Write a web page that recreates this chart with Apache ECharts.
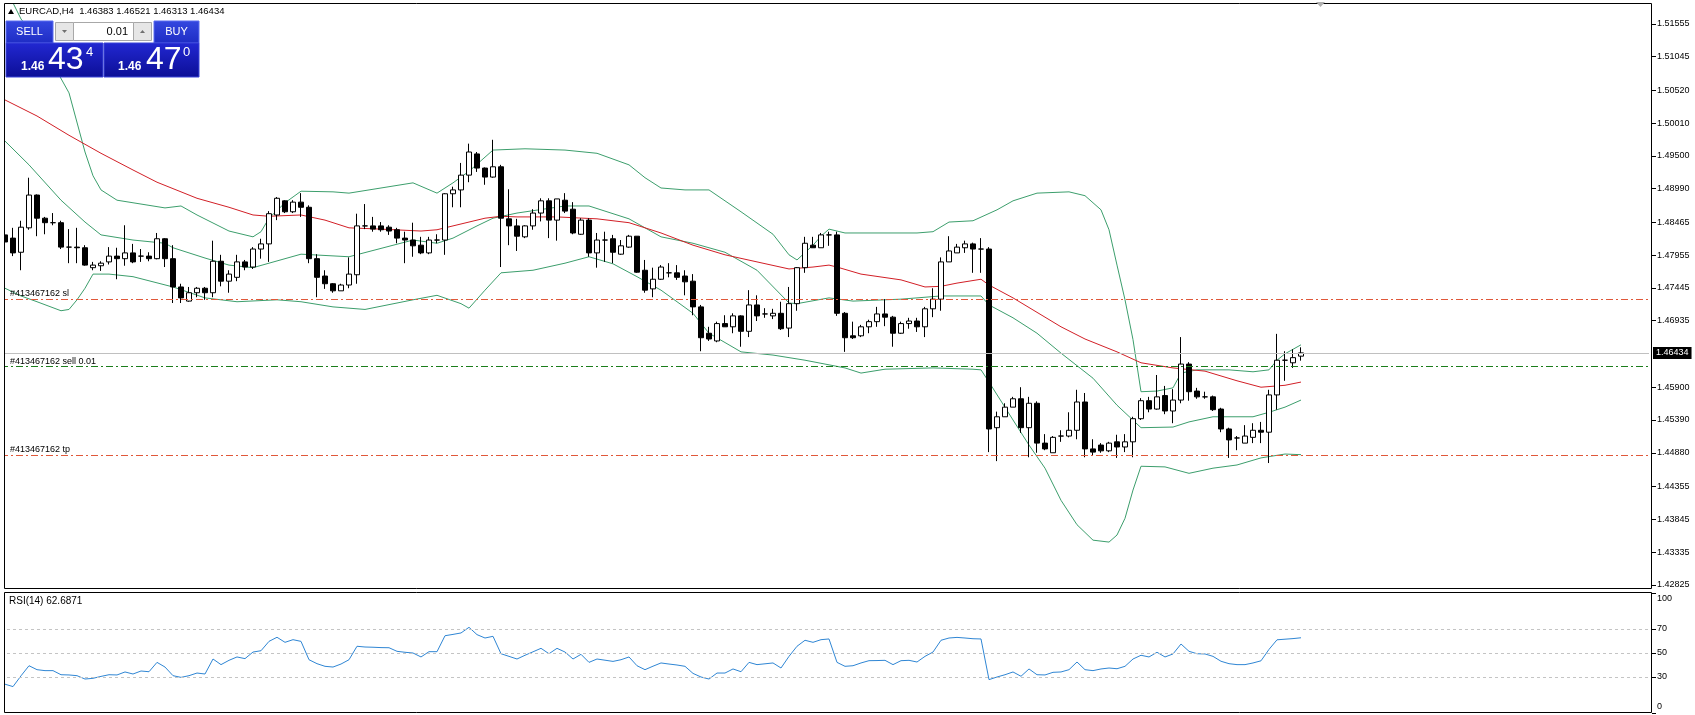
<!DOCTYPE html>
<html>
<head>
<meta charset="utf-8">
<script src="https://cdn.jsdelivr.net/npm/echarts@6.0.0/dist/echarts.min.js"></script>
<style>
html, body { margin: 0; padding: 0; background: #fff; }
#chart { width: 1695px; height: 715px; }
</style>
</head>
<body>
<div id="chart"></div>
<script>
// EURCAD H4, one row per bar: [open, close, low, high]
const candles = [
  [1.4827,1.4816,1.4813,1.4832],[1.4822,1.4799,1.4794,1.4838],[1.4800,1.4839,1.4772,1.4849],[1.4838,1.4889,1.4835,1.4916],
  [1.4889,1.4853,1.4825,1.4890],[1.4853,1.4846,1.4828,1.4855],[1.4846,1.4846,1.4842,1.4861],[1.4846,1.4808,1.4805,1.4849],
  [1.4808,1.4808,1.4783,1.4836],[1.4808,1.4807,1.4783,1.4838],[1.4807,1.4780,1.4779,1.4811],[1.4776,1.4780,1.4772,1.4785],
  [1.4779,1.4783,1.4771,1.4786],[1.4785,1.4794,1.4781,1.4808],[1.4794,1.4790,1.4758,1.4807],[1.4790,1.4799,1.4779,1.4842],
  [1.4799,1.4785,1.4783,1.4813],[1.4794,1.4794,1.4785,1.4805],[1.4794,1.4790,1.4786,1.4800],[1.4790,1.4821,1.4789,1.4830],
  [1.4821,1.4790,1.4777,1.4822],[1.4790,1.4746,1.4721,1.4811],[1.4746,1.4729,1.4721,1.4751],[1.4724,1.4737,1.4723,1.4746],
  [1.4737,1.4744,1.4730,1.4746],[1.4744,1.4737,1.4726,1.4746],[1.4737,1.4786,1.4730,1.4818],[1.4786,1.4755,1.4747,1.4796],
  [1.4755,1.4766,1.4737,1.4772],[1.4761,1.4785,1.4755,1.4796],[1.4785,1.4777,1.4772,1.4788],[1.4777,1.4805,1.4774,1.4808],
  [1.4805,1.4813,1.4790,1.4821],[1.4813,1.4860,1.4785,1.4864],[1.4858,1.4884,1.4850,1.4886],[1.4880,1.4863,1.4861,1.4881],
  [1.4863,1.4878,1.4861,1.4881],[1.4878,1.4870,1.4855,1.4892],[1.4870,1.4790,1.4783,1.4873],[1.4790,1.4761,1.4730,1.4797],
  [1.4763,1.4751,1.4743,1.4772],[1.4751,1.4740,1.4737,1.4752],[1.4740,1.4749,1.4740,1.4751],[1.4749,1.4766,1.4744,1.4792],
  [1.4765,1.4841,1.4751,1.4860],[1.4841,1.4841,1.4836,1.4875],[1.4841,1.4836,1.4832,1.4855],[1.4841,1.4835,1.4832,1.4847],
  [1.4839,1.4833,1.4827,1.4842],[1.4835,1.4822,1.4814,1.4838],[1.4822,1.4819,1.4783,1.4832],[1.4819,1.4810,1.4793,1.4846],
  [1.4811,1.4799,1.4797,1.4824],[1.4799,1.4819,1.4797,1.4824],[1.4819,1.4819,1.4814,1.4828],[1.4819,1.4891,1.4796,1.4892],
  [1.4891,1.4897,1.4870,1.4902],[1.4897,1.4920,1.4870,1.4939],[1.4920,1.4956,1.4909,1.4969],[1.4953,1.4931,1.4925,1.4956],
  [1.4931,1.4917,1.4905,1.4932],[1.4917,1.4933,1.4916,1.4975],[1.4933,1.4853,1.4777,1.4936],[1.4852,1.4841,1.4811,1.4898],
  [1.4841,1.4825,1.4802,1.4852],[1.4824,1.4841,1.4822,1.4842],[1.4841,1.4861,1.4835,1.4867],[1.4861,1.4880,1.4848,1.4884],
  [1.4880,1.4850,1.4822,1.4884],[1.4850,1.4883,1.4818,1.4883],[1.4881,1.4864,1.4861,1.4892],[1.4867,1.4830,1.4828,1.4878],
  [1.4828,1.4850,1.4827,1.4853],[1.4850,1.4799,1.4793,1.4853],[1.4799,1.4819,1.4776,1.4830],[1.4819,1.4819,1.4785,1.4832],
  [1.4821,1.4800,1.4783,1.4827],[1.4797,1.4810,1.4796,1.4819],[1.4808,1.4825,1.4807,1.4827],[1.4825,1.4769,1.4768,1.4825],
  [1.4772,1.4741,1.4737,1.4788],[1.4743,1.4758,1.4730,1.4776],[1.4758,1.4777,1.4757,1.4780],[1.4768,1.4768,1.4761,1.4783],
  [1.4768,1.4761,1.4757,1.4780],[1.4763,1.4754,1.4733,1.4772],[1.4755,1.4715,1.4702,1.4766],[1.4715,1.4667,1.4646,1.4718],
  [1.4674,1.4665,1.4662,1.4684],[1.4662,1.4689,1.4660,1.4692],[1.4689,1.4684,1.4684,1.4702],[1.4684,1.4701,1.4674,1.4705],
  [1.4701,1.4677,1.4653,1.4702],[1.4677,1.4718,1.4668,1.4741],[1.4718,1.4701,1.4693,1.4733],[1.4704,1.4704,1.4698,1.4713],
  [1.4701,1.4705,1.4696,1.4712],[1.4705,1.4681,1.4679,1.4723],[1.4682,1.4720,1.4668,1.4746],[1.4720,1.4776,1.4709,1.4777],
  [1.4776,1.4814,1.4768,1.4824],[1.4811,1.4807,1.4807,1.4824],[1.4807,1.4827,1.4807,1.4830],[1.4827,1.4827,1.4810,1.4832],
  [1.4827,1.4705,1.4701,1.4832],[1.4705,1.4667,1.4645,1.4707],[1.4670,1.4667,1.4665,1.4692],[1.4670,1.4684,1.4668,1.4687],
  [1.4684,1.4692,1.4674,1.4695],[1.4692,1.4704,1.4684,1.4715],[1.4704,1.4699,1.4685,1.4727],[1.4699,1.4674,1.4653,1.4701],
  [1.4674,1.4689,1.4673,1.4692],[1.4689,1.4693,1.4681,1.4698],[1.4693,1.4684,1.4676,1.4698],[1.4684,1.4712,1.4668,1.4715],
  [1.4712,1.4727,1.4699,1.4744],[1.4727,1.4785,1.4709,1.4792],[1.4785,1.4802,1.4785,1.4825],[1.4799,1.4808,1.4799,1.4813],
  [1.4807,1.4813,1.4799,1.4818],[1.4813,1.4805,1.4768,1.4815],[1.4805,1.4805,1.4768,1.4822],[1.4805,1.4525,1.4489,1.4808],
  [1.4527,1.4544,1.4475,1.4552],[1.4544,1.4559,1.4544,1.4565],[1.4559,1.4572,1.4559,1.4575],[1.4572,1.4527,1.4519,1.4590],
  [1.4527,1.4565,1.4481,1.4575],[1.4565,1.4503,1.4488,1.4568],[1.4503,1.4494,1.4492,1.4517],[1.4488,1.4512,1.4488,1.4514],
  [1.4514,1.4514,1.4505,1.4523],[1.4514,1.4523,1.4512,1.4551],[1.4523,1.4567,1.4509,1.4586],[1.4567,1.4494,1.4481,1.4581],
  [1.4494,1.4489,1.4483,1.4509],[1.4500,1.4491,1.4488,1.4503],[1.4491,1.4503,1.4489,1.4505],[1.4505,1.4497,1.4480,1.4516],
  [1.4497,1.4505,1.4489,1.4517],[1.4505,1.4541,1.4481,1.4544],[1.4541,1.4569,1.4539,1.4573],[1.4569,1.4556,1.4551,1.4575],
  [1.4556,1.4575,1.4555,1.4609],[1.4577,1.4553,1.4548,1.4592],[1.4553,1.4570,1.4534,1.4587],[1.4570,1.4626,1.4565,1.4668],
  [1.4626,1.4583,1.4569,1.4629],[1.4584,1.4575,1.4572,1.4589],[1.4575,1.4575,1.4572,1.4583],[1.4575,1.4555,1.4553,1.4577],
  [1.4556,1.4525,1.4520,1.4558],[1.4525,1.4508,1.4480,1.4527],[1.4511,1.4511,1.4492,1.4514],[1.4503,1.4514,1.4503,1.4531],
  [1.4512,1.4523,1.4503,1.4534],[1.4523,1.4520,1.4503,1.4536],[1.4520,1.4578,1.4472,1.4586],[1.4578,1.4632,1.4555,1.4673],
  [1.4632,1.4632,1.4600,1.4646],[1.4628,1.4636,1.4620,1.4649],[1.46383,1.46434,1.46313,1.46521]
]

// indicator lines: [bar number, price]
const maRed = [
  [1,1.5037],[5,1.5012],[9,1.4982],[13,1.4954],[17,1.4928],[20,1.4909],[25,1.4884],[29,1.4870],[32,1.4858],[34,1.4856],
  [38,1.4858],[41,1.4850],[44,1.4838],[48,1.4836],[53,1.4833],[55,1.4835],[58,1.4844],[61,1.4853],[63,1.4856],[65,1.4855],
  [70,1.4855],[75,1.4852],[79,1.4846],[83,1.4830],[87,1.4811],[91,1.4796],[95,1.4785],[99,1.4774],[102,1.4777],[104,1.4780],
  [105,1.4777],[108,1.4766],[113,1.4757],[116,1.4746],[118,1.4747],[120,1.4752],[123,1.4758],[124,1.4749],[127,1.4729],
  [133,1.4684],[136,1.4665],[140,1.4645],[143,1.4628],[147,1.4620],[151,1.4615],[155,1.4600],[158,1.4590],[161,1.4593],[163,1.4598]
]
const bbUpper = [
  [1,1.5213],[2,1.5188],[3,1.5163],[6,1.5115],[9,1.5048],[11,1.4956],[12,1.4919],[13,1.4897],[15,1.4881],[21,1.4869],
  [23,1.4872],[25,1.4858],[29,1.4833],[32,1.4824],[33,1.4832],[34,1.4853],[36,1.4877],[38,1.4895],[42,1.4894],[44,1.4892],
  [52,1.4908],[55,1.4892],[57,1.4908],[59,1.4926],[61,1.4948],[62,1.4959],[66,1.4961],[71,1.4959],[75,1.4954],[79,1.4936],
  [81,1.4916],[83,1.4900],[86,1.4897],[89,1.4897],[93,1.4863],[97,1.4828],[99,1.4796],[100,1.4788],[102,1.4811],[103,1.4825],
  [104,1.4836],[106,1.4830],[115,1.4830],[117,1.4832],[119,1.4847],[122,1.4849],[125,1.4866],[127,1.4880],[130,1.4892],
  [134,1.4894],[136,1.4888],[138,1.4866],[139,1.4835],[140,1.4780],[141,1.4726],[142,1.4664],[143,1.4583],[145,1.4584],
  [147,1.4589],[148,1.4612],[150,1.4617],[154,1.4617],[157,1.4614],[159,1.4617],[160,1.4632],[161,1.4642],[163,1.4656]
]
const bbMiddle = [
  [1,1.4973],[4,1.4936],[8,1.4881],[11,1.4847],[13,1.4827],[17,1.4819],[21,1.4814],[22,1.4807],[26,1.4791],[29,1.4780],
  [32,1.4776],[34,1.4783],[38,1.4797],[44,1.4793],[52,1.4819],[55,1.4814],[57,1.4822],[60,1.4841],[62,1.4853],[65,1.4861],
  [71,1.4872],[74,1.4872],[79,1.4852],[83,1.4824],[87,1.4814],[91,1.4800],[95,1.4772],[99,1.4721],[100,1.4720],[104,1.4729],
  [107,1.4724],[113,1.4727],[118,1.4732],[123,1.4732],[124,1.4718],[127,1.4698],[130,1.4674],[133,1.4643],[137,1.4604],
  [140,1.4562],[143,1.4527],[147,1.4528],[149,1.4536],[152,1.4544],[157,1.4544],[159,1.4551],[161,1.4559],[163,1.4570]
]
const bbLower = [
  [1,1.4744],[3,1.4732],[5,1.4723],[8,1.4709],[9,1.4711],[10,1.4726],[11,1.4744],[12,1.4766],[14,1.4766],[17,1.4762],
  [22,1.4746],[26,1.4729],[30,1.4723],[35,1.4726],[38,1.4723],[42,1.4715],[46,1.4711],[52,1.4726],[55,1.4733],[58,1.4720],
  [59,1.4713],[61,1.4741],[63,1.4768],[67,1.4772],[71,1.4783],[74,1.4793],[77,1.4782],[80,1.4762],[83,1.4741],[87,1.4705],
  [89,1.4674],[93,1.4645],[97,1.4640],[101,1.4632],[106,1.4620],[108,1.4612],[111,1.4618],[117,1.4620],[122,1.4618],
  [123,1.4617],[124,1.4598],[127,1.4539],[129,1.4500],[131,1.4464],[133,1.4414],[135,1.4376],[137,1.4352],[139,1.4349],
  [140,1.4360],[141,1.4386],[142,1.4430],[143,1.4467],[146,1.4466],[149,1.4456],[152,1.4464],[155,1.4469],[158,1.4480],
  [161,1.4486],[163,1.4485]
]

// RSI(14), one value per bar
const rsi = [
  24,22,31,39.4,36.1,35.3,35.3,31.9,31.7,31.1,
  28.3,28.9,30.5,31.9,31.7,34.2,32.5,35,34.4,42.2,
  38.3,31.1,29.7,31.1,33.3,32.5,45,40.3,43.9,46.7,
  45.3,50.8,51.9,59.7,63.1,58.9,61.1,59.7,44.4,41.1,
  38.9,38.3,40.8,44.4,55.6,55,54.8,54.5,54.4,51.4,
  50.6,50,46.7,51.1,51.1,64.4,65.5,66.7,71.4,65.3,
  62.5,63.9,49.4,47.2,45,48.1,51,53.9,49.4,53.9,
  50.8,45,48.9,42.2,45,44,43,44.4,46.7,39.4,
  36.1,39,41.7,40.8,40,38.9,33,30,28.3,33.3,
  33.3,36.7,34.4,42.2,40.3,41,41.7,37.5,47.2,55.6,
  60.6,58.9,61.1,61.7,42.2,38.9,39.4,41.7,43.6,43.7,
  43.9,40.3,43.6,43.9,42.5,47.2,50.8,60.6,62.5,63,
  62.5,61.9,61.7,27.8,30,31.9,34.2,30.6,36.7,31.9,
  31.7,33.9,34.2,36.1,42.5,36.1,35.3,36.7,37.5,36.9,
  38.9,45,48.1,46.7,50.6,46.7,49.2,57.5,51.4,49.4,
  49.2,47.2,43.1,41.1,40.3,40.3,41.7,43.5,53,61,
  61.5,62,62.6871
]

const priceTicks = [1.51555, 1.51045, 1.50520, 1.50010, 1.49500, 1.48990, 1.48465, 1.47955, 1.47445,
  1.46935, 1.45900, 1.45390, 1.44880, 1.44355, 1.43845, 1.43335, 1.42825]
const rsiTicks = [0, 30, 50, 70, 100]
const rsiLevels = [30, 50, 70]

const lastPrice = 1.46434
const orderSl = 1.4727
const orderOpen = 1.4622
const orderTp = 1.4484

// 206 bar slots across the window, only the first 163 hold bars
const categories = Array.from({ length: 206 }, (_, i) => String(i + 1))

const font = 'Liberation Sans'
const toXY = arr => arr.map(p => [p[0] - 1, p[1]])

const bandLine = (data, color) => ({
  type: 'line',
  xAxisIndex: 0,
  yAxisIndex: 0,
  data: toXY(data),
  symbol: 'none',
  silent: true,
  clip: true,
  lineStyle: { color: color, width: 1 },
  z: 1
})

const orderLine = (value, color, text) => ({
  yAxis: value,
  lineStyle: { color: color, width: 1, type: [7, 3, 2, 3] },
  label: {
    show: true,
    position: 'insideStartTop',
    formatter: text,
    color: '#000',
    fontSize: 9,
    fontFamily: font,
    distance: [9, 1]
  }
})

const myChart = echarts.init(document.getElementById('chart'))

const redLine = bandLine(maRed, '#d21f26')
redLine.markLine = {
  symbol: 'none',
  silent: true,
  animation: false,
  precision: 5,
  data: [
    {
      yAxis: lastPrice,
      lineStyle: { color: '#c0c0c0', width: 1, type: 'solid' },
      label: {
        show: true,
        position: 'end',
        formatter: lastPrice.toFixed(5),
        color: '#fff',
        backgroundColor: '#000',
        padding: [2, 3, 1, 3],
        fontSize: 9,
        fontFamily: font,
        distance: 4
      }
    },
    orderLine(orderSl, '#e0583a', '#413467162 sl'),
    orderLine(orderOpen, '#1b7d1b', '#413467162 sell 0.01'),
    orderLine(orderTp, '#e0583a', '#413467162 tp')
  ]
}

const option = {
  animation: false,
  backgroundColor: '#fff',
  grid: [
    { left: 1, top: 4, width: 1648, height: 585 },
    { left: 1, top: 593, width: 1648, height: 120 }
  ],
  xAxis: [
    { type: 'category', gridIndex: 0, data: categories, show: false },
    { type: 'category', gridIndex: 1, data: categories, show: false }
  ],
  yAxis: [
    {
      type: 'value',
      gridIndex: 0,
      position: 'right',
      offset: 3,
      min: 1.4276,
      max: 1.51863,
      axisLine: { show: false },
      splitLine: { show: false },
      axisTick: { show: true, length: 4, customValues: priceTicks, lineStyle: { color: '#000' } },
      axisLabel: {
        customValues: priceTicks,
        formatter: v => v.toFixed(5),
        color: '#000',
        fontSize: 9,
        fontFamily: font,
        margin: 5
      }
    },
    {
      type: 'value',
      gridIndex: 1,
      position: 'right',
      offset: 3,
      min: 0,
      max: 100,
      axisLine: { show: false },
      splitLine: { show: false },
      axisTick: { show: true, length: 4, customValues: rsiTicks, lineStyle: { color: '#000' } },
      axisLabel: {
        customValues: rsiTicks,
        formatter: v => v === 100 ? '{t|100}' : (v === 0 ? '{b|0}' : String(v)),
        color: '#000',
        fontSize: 9,
        fontFamily: font,
        margin: 5,
        rich: {
          t: { fontSize: 9, fontFamily: font, color: '#000', padding: [12, 0, 0, 0] },
          b: { fontSize: 9, fontFamily: font, color: '#000', padding: [0, 0, 12, 0] }
        }
      }
    }
  ],
  series: [
    bandLine(bbUpper, '#3c9e6c'),
    bandLine(bbMiddle, '#3c9e6c'),
    bandLine(bbLower, '#3c9e6c'),
    redLine,
    {
      type: 'candlestick',
      xAxisIndex: 0,
      yAxisIndex: 0,
      data: candles,
      barWidth: 5,
      silent: true,
      z: 3,
      itemStyle: {
        color: '#fff',
        color0: '#000',
        borderColor: '#000',
        borderColor0: '#000',
        borderColorDoji: '#000',
        borderWidth: 1
      }
    },
    {
      type: 'line',
      xAxisIndex: 1,
      yAxisIndex: 1,
      data: rsi,
      symbol: 'none',
      silent: true,
      lineStyle: { color: '#2f86d4', width: 1 },
      markLine: {
        symbol: 'none',
        silent: true,
        animation: false,
        label: { show: false },
        lineStyle: { color: '#c4c4c4', width: 1, type: [3, 3] },
        data: rsiLevels.map(v => ({ yAxis: v }))
      }
    }
  ],
  graphic: [
    // clip strip left of the frame
    { type: 'rect', shape: { x: 0, y: 0, width: 4, height: 715 }, style: { fill: '#fff' }, z: 100 },
    // panel frames
    { type: 'rect', shape: { x: 4.5, y: 3.5, width: 1647, height: 585 }, style: { fill: 'none', stroke: '#000', lineWidth: 1 }, z: 101 },
    { type: 'rect', shape: { x: 4.5, y: 592.5, width: 1647, height: 120 }, style: { fill: 'none', stroke: '#000', lineWidth: 1 }, z: 101 },
    // shift marker
    { type: 'polygon', shape: { points: [[1316, 2], [1325, 2], [1320.5, 7]] }, style: { fill: '#b0b0b0' }, z: 101 },
    // header
    { type: 'polygon', shape: { points: [[8, 14], [11, 9], [14, 14]] }, style: { fill: '#000' }, z: 101 },
    {
      type: 'text', x: 19, y: 11, z: 101,
      style: { text: 'EURCAD,H4  1.46383 1.46521 1.46313 1.46434', fill: '#000', fontSize: 9.5, fontFamily: font, verticalAlign: 'middle', textVerticalAlign: 'middle' }
    },
    {
      type: 'text', x: 9, y: 601, z: 101,
      style: { text: 'RSI(14) 62.6871', fill: '#000', fontSize: 10, fontFamily: font, verticalAlign: 'middle', textVerticalAlign: 'middle' }
    },
    // one click trading panel
    {
      type: 'rect', shape: { x: 6, y: 21, width: 47, height: 22 }, z: 110,
      style: { fill: new echarts.graphic.LinearGradient(0, 0, 0, 1, [{ offset: 0, color: '#3448e0' }, { offset: 1, color: '#1e2cc4' }]), stroke: '#5a6cf0', lineWidth: 1 }
    },
    {
      type: 'rect', shape: { x: 154, y: 21, width: 45, height: 22 }, z: 110,
      style: { fill: new echarts.graphic.LinearGradient(0, 0, 0, 1, [{ offset: 0, color: '#3448e0' }, { offset: 1, color: '#1e2cc4' }]), stroke: '#5a6cf0', lineWidth: 1 }
    },
    {
      type: 'rect', shape: { x: 6, y: 43, width: 97, height: 34 }, z: 110,
      style: { fill: new echarts.graphic.LinearGradient(0, 0, 0, 1, [{ offset: 0, color: '#2228d2' }, { offset: 1, color: '#0c0e96' }]), stroke: '#3a44d8', lineWidth: 1 }
    },
    {
      type: 'rect', shape: { x: 104, y: 43, width: 95, height: 34 }, z: 110,
      style: { fill: new echarts.graphic.LinearGradient(0, 0, 0, 1, [{ offset: 0, color: '#2228d2' }, { offset: 1, color: '#0c0e96' }]), stroke: '#3a44d8', lineWidth: 1 }
    },
    { type: 'rect', shape: { x: 55.5, y: 22.5, width: 18, height: 18 }, z: 110, style: { fill: '#e6e6e6', stroke: '#a8a8a8', lineWidth: 1 } },
    { type: 'rect', shape: { x: 73.5, y: 22.5, width: 60, height: 18 }, z: 110, style: { fill: '#fff', stroke: '#a8a8a8', lineWidth: 1 } },
    { type: 'rect', shape: { x: 133.5, y: 22.5, width: 18, height: 18 }, z: 110, style: { fill: '#e6e6e6', stroke: '#a8a8a8', lineWidth: 1 } },
    { type: 'polygon', shape: { points: [[62, 30], [67, 30], [64.5, 33]] }, style: { fill: '#707070' }, z: 111 },
    { type: 'polygon', shape: { points: [[140, 33], [145, 33], [142.5, 30]] }, style: { fill: '#707070' }, z: 111 },
    {
      type: 'text', x: 29.5, y: 32, z: 111,
      style: { text: 'SELL', fill: '#fff', fontSize: 11, fontFamily: font, align: 'center', textAlign: 'center', verticalAlign: 'middle', textVerticalAlign: 'middle' }
    },
    {
      type: 'text', x: 176.5, y: 32, z: 111,
      style: { text: 'BUY', fill: '#fff', fontSize: 11, fontFamily: font, align: 'center', textAlign: 'center', verticalAlign: 'middle', textVerticalAlign: 'middle' }
    },
    {
      type: 'text', x: 128, y: 32, z: 111,
      style: { text: '0.01', fill: '#000', fontSize: 11, fontFamily: font, align: 'right', textAlign: 'right', verticalAlign: 'middle', textVerticalAlign: 'middle' }
    },
    { type: 'text', x: 21, y: 67, z: 111, style: { text: '1.46', fill: '#fff', fontSize: 12, fontWeight: 'bold', fontFamily: font, verticalAlign: 'middle', textVerticalAlign: 'middle' } },
    { type: 'text', x: 48, y: 60, z: 111, style: { text: '43', fill: '#fff', fontSize: 32, fontFamily: font, verticalAlign: 'middle', textVerticalAlign: 'middle' } },
    { type: 'text', x: 86, y: 52, z: 111, style: { text: '4', fill: '#fff', fontSize: 13, fontFamily: font, verticalAlign: 'middle', textVerticalAlign: 'middle' } },
    { type: 'text', x: 118, y: 67, z: 111, style: { text: '1.46', fill: '#fff', fontSize: 12, fontWeight: 'bold', fontFamily: font, verticalAlign: 'middle', textVerticalAlign: 'middle' } },
    { type: 'text', x: 146, y: 60, z: 111, style: { text: '47', fill: '#fff', fontSize: 32, fontFamily: font, verticalAlign: 'middle', textVerticalAlign: 'middle' } },
    { type: 'text', x: 183, y: 52, z: 111, style: { text: '0', fill: '#fff', fontSize: 13, fontFamily: font, verticalAlign: 'middle', textVerticalAlign: 'middle' } }
  ]
}

myChart.setOption(option)
</script>
</body>
</html>
